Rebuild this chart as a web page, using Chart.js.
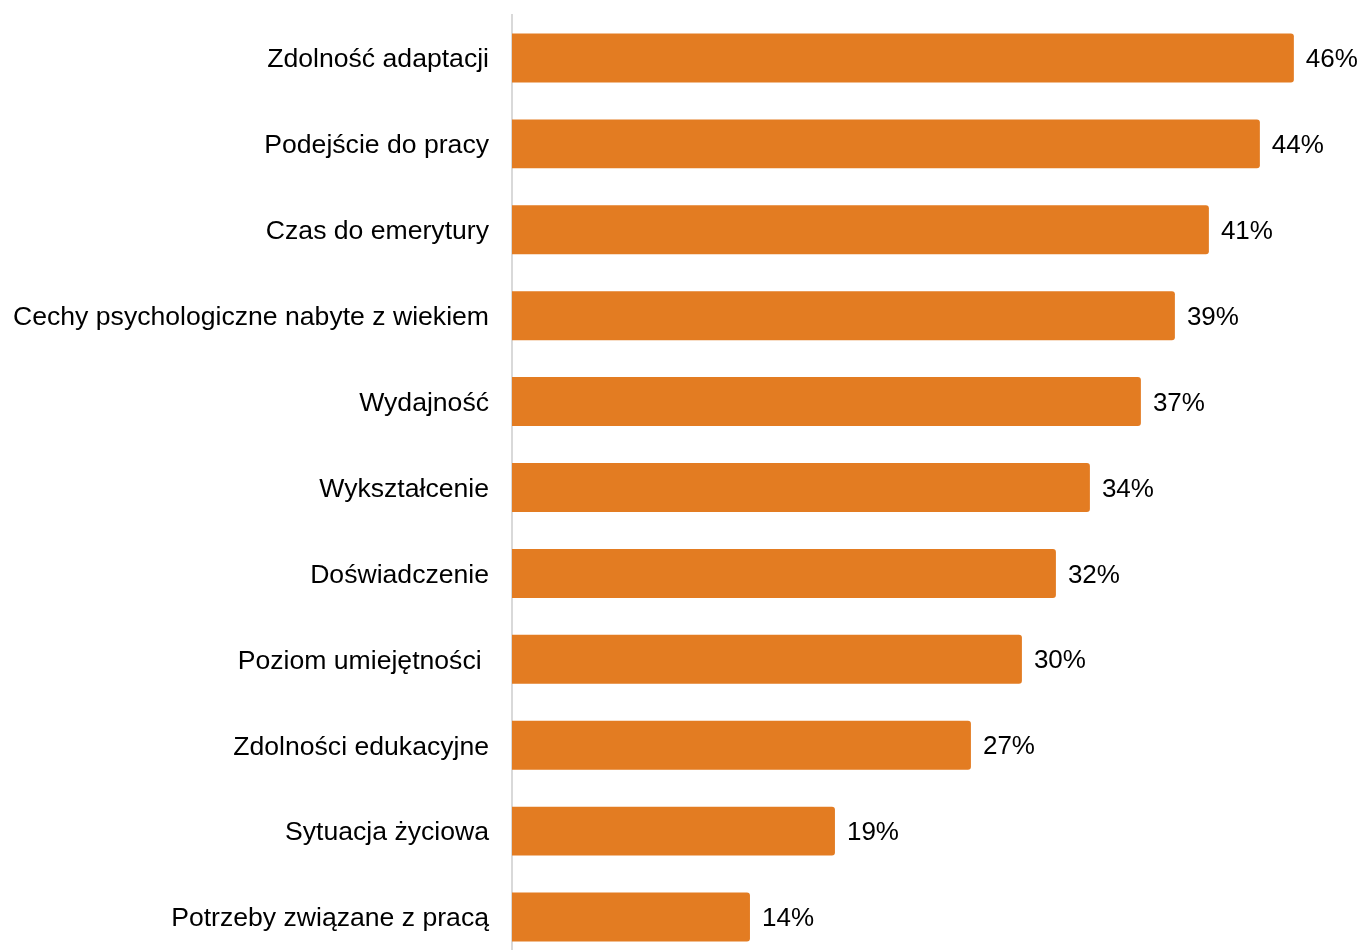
<!DOCTYPE html>
<html lang="pl">
<head>
<meta charset="utf-8">
<title>Czynniki</title>
<script src="https://cdn.jsdelivr.net/npm/chart.js@4.4.1/dist/chart.umd.min.js"></script>
<style>
    html, body {
        margin: 0;
        padding: 0;
        background: #ffffff;
        overflow: hidden;
    }
    #wrap {
        width: 1361px;
        height: 960px;
        position: relative;
    }
</style>
</head>
<body>
<div id="wrap">
    <canvas id="wykres"></canvas>
</div>
<script>
const kategorie = [
    'Zdolność adaptacji',
    'Podejście do pracy',
    'Czas do emerytury',
    'Cechy psychologiczne nabyte z wiekiem',
    'Wydajność',
    'Wykształcenie',
    'Doświadczenie',
    'Poziom umiejętności ',
    'Zdolności edukacyjne',
    'Sytuacja życiowa',
    'Potrzeby związane z pracą'
];

const wartosci = [46, 44, 41, 39, 37, 34, 32, 30, 27, 19, 14];

const FONTE = '"Liberation Sans", Arial, sans-serif';
const COR_BARRA = '#e37c22';

// rótulos com a porcentagem no fim de cada barra
const rotulosBarras = {
    id: 'rotulosBarras',
    afterDatasetsDraw(chart) {
        const ctx = chart.ctx;
        const meta = chart.getDatasetMeta(0);
        ctx.save();
        ctx.font = '26px ' + FONTE;
        ctx.fillStyle = '#000000';
        ctx.textAlign = 'left';
        ctx.textBaseline = 'middle';
        meta.data.forEach((barra, i) => {
            ctx.fillText(wartosci[i] + '%', barra.x + 12, barra.y + 2);
        });
        ctx.restore();
    }
};

new Chart(document.getElementById('wykres'), {
    type: 'bar',
    data: {
        labels: kategorie,
        datasets: [{
            data: wartosci,
            backgroundColor: COR_BARRA,
            borderRadius: 3,
            borderSkipped: 'start',
            categoryPercentage: 1,
            barPercentage: 0.57
        }]
    },
    options: {
        indexAxis: 'y',
        responsive: true,
        maintainAspectRatio: false,
        animation: false,
        layout: {
            padding: { top: 15, right: 0, bottom: 0, left: 0 }
        },
        plugins: {
            legend: { display: false },
            tooltip: { enabled: false }
        },
        scales: {
            x: {
                display: false,
                min: 0,
                max: 49.95
            },
            y: {
                afterFit: (escala) => {
                    escala.width = 512;
                    escala.paddingTop = 0;
                    escala.paddingBottom = 0;
                },
                grid: { display: false, drawTicks: false },
                border: { display: true, color: '#d9d9d9', width: 2 },
                ticks: {
                    color: '#000000',
                    padding: 23,
                    labelOffset: 2,
                    font: { family: FONTE, size: 26.6 }
                }
            }
        }
    },
    plugins: [rotulosBarras]
});
</script>
</body>
</html>
